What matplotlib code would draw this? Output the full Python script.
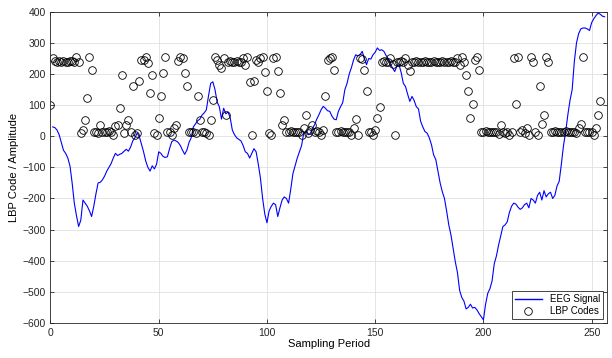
import numpy as np
import matplotlib
matplotlib.use("Agg")
import matplotlib.pyplot as plt

plt.rcParams['font.family'] = ['Liberation Sans', 'DejaVu Sans']

# EEG signal, samples 1..256
eeg = [30, 28, 20, 5, -20, -45, -55, -70, -95, -150,
       -215, -255, -290, -270, -205, -215, -225, -240, -258, -225,
       -185, -150, -148, -140, -128, -112, -100, -88, -70, -55,
       -62, -58, -55, -48, -42, -48, -35, -15, -5, 10,
       0, -25, -50, -80, -100, -112, -95, -105, -90, -50,
       -55, -65, -68, -66, -40, -18, -12, -15, -20, -30,
       -45, -58, -45, -20, -5, 30, 40, 50, 55, 68,
       75, 85, 130, 170, 175, 150, 110, 95, 55, 90,
       72, 78, 60, 20, 5, -5, -10, -15, -30, -50,
       -55, -70, -55, -40, -50, -90, -135, -200, -250, -278,
       -240, -225, -215, -220, -258, -230, -205, -195, -200, -215,
       -170, -120, -95, -70, -50, -30, 10, 15, 5, 8,
       25, 37, 55, 69, 85, 96, 90, 82, 80, 65,
       55, 53, 80, 95, 108, 150, 170, 200, 220, 245,
       262, 258, 262, 273, 250, 230, 250, 248, 262, 270,
       284, 276, 278, 273, 260, 250, 232, 220, 208, 225,
       230, 205, 170, 160, 135, 112, 128, 115, 95, 88,
       48, 30, 15, 10, -5, -27, -60, -75, -113, -150,
       -178, -200, -240, -285, -317, -360, -403, -438, -495, -518,
       -530, -555, -550, -540, -552, -550, -558, -570, -580, -590,
       -540, -505, -490, -465, -410, -385, -350, -320, -290, -285,
       -275, -245, -225, -215, -218, -228, -235, -230, -220, -215,
       -230, -200, -205, -215, -190, -180, -205, -175, -195, -185,
       -180, -200, -190, -160, -145, -90, -30, 15, 69, 115,
       150, 240, 300, 330, 345, 348, 348, 345, 340, 365,
       378, 388, 396, 392, 386, 384]

# LBP codes, samples 0..255
lbp = [99, 250, 241, 240, 241, 240, 241, 240, 240, 241,
       243, 240, 255, 240, 10, 21, 53, 123, 255, 212,
       15, 15, 10, 37, 15, 15, 15, 16, 15, 5,
       33, 37, 90, 196, 10, 35, 53, 15, 163, 5,
       10, 178, 246, 246, 255, 237, 139, 196, 12, 5,
       58, 131, 203, 255, 15, 15, 5, 28, 37, 243,
       255, 252, 203, 163, 15, 15, 15, 10, 131, 53,
       15, 15, 10, 5, 53, 117, 255, 244, 230, 220,
       252, 69, 240, 241, 240, 240, 241, 240, 240, 252,
       230, 255, 174, 5, 178, 246, 240, 252, 255, 208,
       144, 10, 5, 252, 255, 210, 139, 37, 53, 15,
       15, 16, 15, 15, 15, 15, 5, 26, 69, 10,
       21, 37, 15, 16, 15, 5, 20, 128, 246, 252,
       255, 212, 15, 15, 16, 15, 15, 15, 15, 5,
       26, 56, 5, 253, 248, 212, 146, 15, 15, 5,
       20, 58, 95, 240, 241, 240, 240, 252, 232, 5,
       240, 240, 241, 240, 252, 229, 211, 240, 240, 241,
       240, 240, 240, 241, 240, 240, 240, 241, 240, 240,
       240, 241, 240, 240, 240, 241, 240, 240, 252, 228,
       255, 240, 196, 147, 59, 103, 246, 255, 212, 15,
       15, 16, 15, 15, 15, 15, 15, 7, 37, 15,
       10, 15, 5, 15, 252, 103, 255, 15, 20, 10,
       26, 5, 255, 240, 15, 5, 160, 40, 69, 255,
       240, 15, 15, 16, 15, 15, 15, 15, 16, 15,
       15, 15, 15, 10, 28, 40, 255, 15, 15, 15,
       15, 5, 25, 69, 114]

x_eeg = np.arange(1, len(eeg) + 1)
x_lbp = np.arange(len(lbp))

fig = plt.figure(figsize=(6.12, 3.58), dpi=100)
ax = fig.add_axes([0.0825, 0.098, 0.909, 0.869])

ax.plot(x_eeg, eeg, color=(0, 0, 1), linewidth=0.8, label='EEG Signal')
ax.plot(x_lbp, lbp, linestyle='none', marker='o', markersize=5.5,
        markerfacecolor='none', markeredgecolor='black', markeredgewidth=0.6,
        label='LBP Codes')

ax.set_xlim(0, 257)
ax.set_ylim(-600, 400)
ax.set_xticks(np.arange(0, 251, 50))
ax.set_yticks(np.arange(-600, 401, 100))
ax.tick_params(direction='in', labelsize=7.5, length=3, width=0.6,
               colors='#262626', top=True, right=True, labeltop=False, labelright=False)
ax.grid(True, color='#e0e0e0', linewidth=0.6)
for s in ax.spines.values():
    s.set_color('#262626')
    s.set_linewidth(0.6)

ax.set_xlabel('Sampling Period', fontsize=8, labelpad=1)
ax.set_ylabel('LBP Code / Amplitude', fontsize=8, labelpad=2)

leg = ax.legend(loc='lower right', fontsize=7, fancybox=False, framealpha=1,
                edgecolor='#262626', borderpad=0.3, handlelength=2.8,
                labelspacing=0.2, borderaxespad=0.4)
leg.get_frame().set_linewidth(0.6)
leg.get_lines()[0].set_linewidth(1.0)

fig.savefig('out.png', dpi=100)
